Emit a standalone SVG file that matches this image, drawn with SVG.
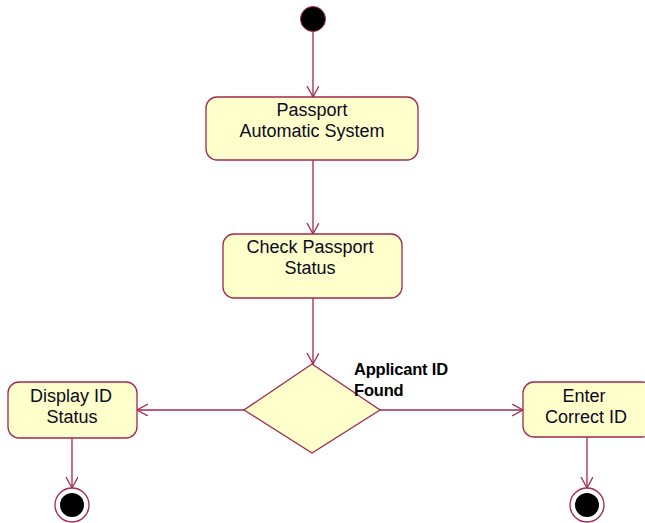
<svg xmlns="http://www.w3.org/2000/svg" width="645" height="523" viewBox="0 0 645 523">
<style>
.act{fill:#FFFFCC;stroke:#A3274F;stroke-width:1.3}
.t{font-family:"Liberation Sans",Arial,sans-serif;font-size:18px;fill:#0a0a20;text-anchor:middle}
.lbl{font-family:"Liberation Sans",Arial,sans-serif;font-size:16.5px;font-weight:bold;fill:#000;letter-spacing:-0.2px}
.edge{stroke:#A3274F;stroke-width:1.3;fill:none}
</style>
<defs>
<marker id="arr" markerUnits="userSpaceOnUse" markerWidth="14" markerHeight="14" refX="11" refY="6" orient="auto">
<path d="M0,0 L11,6 L0,12" fill="none" stroke="#A3274F" stroke-width="1.3"/>
</marker>
</defs>
<rect width="645" height="523" fill="#fff"/>
<g id="connectors">
<line class="edge" x1="313" y1="31" x2="313" y2="97" marker-end="url(#arr)"/>
<line class="edge" x1="313" y1="160" x2="313" y2="234" marker-end="url(#arr)"/>
<line class="edge" x1="313" y1="298" x2="313" y2="364" marker-end="url(#arr)"/>
<line class="edge" x1="244" y1="410" x2="137" y2="410" marker-end="url(#arr)"/>
<line class="edge" x1="380" y1="410" x2="523" y2="410" marker-end="url(#arr)"/>
<line class="edge" x1="72" y1="438" x2="72" y2="488" marker-end="url(#arr)"/>
<line class="edge" x1="587" y1="437" x2="587" y2="488" marker-end="url(#arr)"/>
</g>
<g id="start">
<circle cx="313" cy="19" r="12.5" fill="#000" stroke="#A3274F" stroke-width="1"/>
</g>
<g id="passport-automatic-system">
<rect class="act" x="206" y="97" width="212" height="63" rx="11"/>
<text class="t" x="312" y="116">Passport</text>
<text class="t" x="312" y="137">Automatic System</text>
</g>
<g id="check-passport-status">
<rect class="act" x="223" y="234" width="179" height="64" rx="11"/>
<text class="t" x="310" y="253">Check Passport</text>
<text class="t" x="310" y="274">Status</text>
</g>
<g id="decision">
<polygon class="act" points="312,364 380,410 312,453 244,410"/>
<text class="lbl" x="354" y="375">Applicant ID</text>
<text class="lbl" x="354" y="396">Found</text>
</g>
<g id="display-id-status">
<rect class="act" x="8" y="382" width="129" height="56" rx="11"/>
<text class="t" x="71" y="402">Display ID</text>
<text class="t" x="72" y="423">Status</text>
</g>
<g id="enter-correct-id">
<rect class="act" x="523" y="382" width="130" height="55" rx="11"/>
<text class="t" x="584" y="402">Enter</text>
<text class="t" x="586" y="423">Correct ID</text>
</g>
<g id="end-left">
<circle cx="72" cy="505" r="17" fill="#fff" stroke="#A3274F" stroke-width="1.3"/>
<circle cx="72" cy="505" r="12" fill="#000"/>
</g>
<g id="end-right">
<circle cx="587" cy="505" r="17" fill="#fff" stroke="#A3274F" stroke-width="1.3"/>
<circle cx="587" cy="505" r="12" fill="#000"/>
</g>
</svg>
